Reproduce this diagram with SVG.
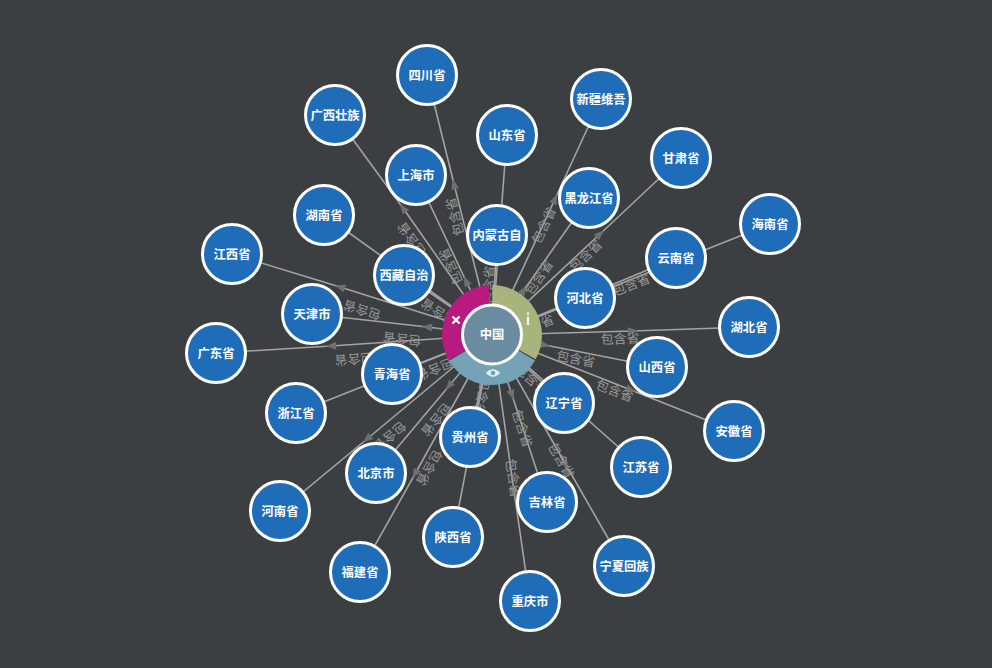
<svg xmlns="http://www.w3.org/2000/svg" width="992" height="668" viewBox="0 0 992 668">
<style>
.e{fill:none;stroke:#a3a3a3;stroke-width:1.6;marker-mid:url(#a)}
.l{font:13px "Noto Sans CJK SC","Liberation Sans",sans-serif;fill:#979797;text-anchor:middle;dominant-baseline:central}
.n circle{fill:#1f6cb8;stroke:#fff;stroke-width:3;r:29.5px}
.n text{font:bold 12.3px "Noto Sans CJK SC","Liberation Sans",sans-serif;fill:#fff;text-anchor:middle;dominant-baseline:central}
</style>
<defs><marker id="a" markerUnits="userSpaceOnUse" markerWidth="12" markerHeight="10" refX="6" refY="5" orient="auto"><path d="M1 1L11 5L1 9Z" fill="#6f6f6f"/></marker></defs>
<rect width="992" height="668" fill="#3c3f41"/>
<g id="connectors">
<polyline class="e" points="492,335 454,184 427,75"/>
<polyline class="e" points="492,335 507,135"/>
<polyline class="e" points="492,335 555,199 601,99"/>
<polyline class="e" points="492,335 600,234 681,158"/>
<polyline class="e" points="492,335 770,224"/>
<polyline class="e" points="492,335 676,258"/>
<polyline class="e" points="492,335 524,290 589,198"/>
<polyline class="e" points="492,335 497,235"/>
<polyline class="e" points="492,335 585,298"/>
<polyline class="e" points="492,335 633,331 749,327"/>
<polyline class="e" points="492,335 545,345 657,367"/>
<polyline class="e" points="492,335 631,390 734,431"/>
<polyline class="e" points="492,335 641,467"/>
<polyline class="e" points="492,335 564,403"/>
<polyline class="e" points="492,335 566,465 624,566"/>
<polyline class="e" points="492,335 512,395 547,502"/>
<polyline class="e" points="492,335 514,491 530,601"/>
<polyline class="e" points="492,335 470,437"/>
<polyline class="e" points="492,335 453,537"/>
<polyline class="e" points="492,335 415,474 360,572"/>
<polyline class="e" points="492,335 449,386 376,473"/>
<polyline class="e" points="492,335 367,439 280,511"/>
<polyline class="e" points="492,335 392,374"/>
<polyline class="e" points="492,335 296,413"/>
<polyline class="e" points="492,335 331,346 216,353"/>
<polyline class="e" points="492,335 340,287 232,254"/>
<polyline class="e" points="492,335 427,327 312,314"/>
<polyline class="e" points="492,335 404,275"/>
<polyline class="e" points="492,335 324,215"/>
<polyline class="e" points="492,335 466,281 416,175"/>
<polyline class="e" points="492,335 403,208 335,115"/>
<g>
<text class="l" transform="translate(454,217) rotate(-104)">包含省</text>
<text class="l" transform="translate(450,267) rotate(-115.4)">包含省</text>
<text class="l" transform="translate(411,240) rotate(-125.5)">包含省</text>
<text class="l" transform="translate(362,311) rotate(-162.7)">包含省</text>
<text class="l" transform="translate(402,340) rotate(-173.3)">包含省</text>
<text class="l" transform="translate(438,313) rotate(-145.7)">包含省</text>
<text class="l" transform="translate(543,225) rotate(-65.2)">包含省</text>
<text class="l" transform="translate(538,277) rotate(-54.7)">包含省</text>
<text class="l" transform="translate(585,255) rotate(-43.1)">包含省</text>
<text class="l" transform="translate(631,284) rotate(-21.8)">包含省</text>
<text class="l" transform="translate(535,325) rotate(-21.7)">包含省</text>
<text class="l" transform="translate(620,338) rotate(-1.8)">包含省</text>
<text class="l" transform="translate(576,358) rotate(11)">包含省</text>
<text class="l" transform="translate(615,390) rotate(21.6)">包含省</text>
<text class="l" transform="translate(532,379) rotate(43.4)">包含省</text>
<text class="l" transform="translate(523,428) rotate(71.8)">包含省</text>
<text class="l" transform="translate(562,460) rotate(60.3)">包含省</text>
<text class="l" transform="translate(514,478) rotate(81.9)">包含省</text>
<text class="l" transform="translate(435,370) rotate(158.7)">包含省</text>
<text class="l" transform="translate(354,360) rotate(176.3)">包含省</text>
<text class="l" transform="translate(437,420) rotate(130)">包含省</text>
<text class="l" transform="translate(390,437) rotate(140.3)">包含省</text>
<text class="l" transform="translate(430,468) rotate(119.1)">包含省</text>
<text class="l" transform="translate(483,397) rotate(102.2)">包含省</text>
<text class="l" transform="translate(488,285) rotate(-87.1)">包含省</text>
</g>
</g>
<g id="menu">
<path d="M492.4 285A50 50 0 0 1 535.7 359.2L518.2 349.5A30 30 0 0 0 492.3 305Z" fill="#a9b47c"/>
<path d="M535.1 360.4A50 50 0 0 1 449.1 360.8L466.3 350.5A30 30 0 0 0 517.9 350.2Z" fill="#74a3b8"/>
<path d="M448.7 360A50 50 0 0 1 488.5 285.1L489.9 305.1A30 30 0 0 0 466 350Z" fill="#b81a80"/>
<path d="M452.5 316.5L459.5 323.5M459.5 316.5L452.5 323.5" stroke="#fff" stroke-width="2.4" fill="none"/>
<path d="M528 312.5V314.5M528 316.5V325" stroke="#f1f3dc" stroke-width="2.4" fill="none"/>
<path d="M486 373Q493 365.5 500 373Q493 380.5 486 373Z" fill="#e4eef2"/>
<circle cx="493" cy="373" r="2.3" fill="#74a3b8"/>
</g>
<g id="n-center" class="n"><circle cx="492" cy="334.5" style="fill:#6a8ba0"/><text x="492" y="334">中国</text></g>
<g id="n1" class="n"><circle cx="427" cy="75"/><text x="427" y="74.5">四川省</text></g>
<g id="n2" class="n"><circle cx="507" cy="135"/><text x="507" y="134.5">山东省</text></g>
<g id="n3" class="n"><circle cx="601" cy="99"/><text x="601" y="98.5">新疆维吾</text></g>
<g id="n4" class="n"><circle cx="681" cy="158"/><text x="681" y="157.5">甘肃省</text></g>
<g id="n5" class="n"><circle cx="770" cy="224"/><text x="770" y="223.5">海南省</text></g>
<g id="n6" class="n"><circle cx="676" cy="258"/><text x="676" y="257.5">云南省</text></g>
<g id="n7" class="n"><circle cx="589" cy="198"/><text x="589" y="197.5">黑龙江省</text></g>
<g id="n8" class="n"><circle cx="497" cy="235"/><text x="497" y="234.5">内蒙古自</text></g>
<g id="n9" class="n"><circle cx="585" cy="298"/><text x="585" y="297.5">河北省</text></g>
<g id="n10" class="n"><circle cx="749" cy="327"/><text x="749" y="326.5">湖北省</text></g>
<g id="n11" class="n"><circle cx="657" cy="367"/><text x="657" y="366.5">山西省</text></g>
<g id="n12" class="n"><circle cx="734" cy="431"/><text x="734" y="430.5">安徽省</text></g>
<g id="n13" class="n"><circle cx="641" cy="467"/><text x="641" y="466.5">江苏省</text></g>
<g id="n14" class="n"><circle cx="564" cy="403"/><text x="564" y="402.5">辽宁省</text></g>
<g id="n15" class="n"><circle cx="624" cy="566"/><text x="624" y="565.5">宁夏回族</text></g>
<g id="n16" class="n"><circle cx="547" cy="502"/><text x="547" y="501.5">吉林省</text></g>
<g id="n17" class="n"><circle cx="530" cy="601"/><text x="530" y="600.5">重庆市</text></g>
<g id="n18" class="n"><circle cx="470" cy="437"/><text x="470" y="436.5">贵州省</text></g>
<g id="n19" class="n"><circle cx="453" cy="537"/><text x="453" y="536.5">陕西省</text></g>
<g id="n20" class="n"><circle cx="360" cy="572"/><text x="360" y="571.5">福建省</text></g>
<g id="n21" class="n"><circle cx="376" cy="473"/><text x="376" y="472.5">北京市</text></g>
<g id="n22" class="n"><circle cx="280" cy="511"/><text x="280" y="510.5">河南省</text></g>
<g id="n23" class="n"><circle cx="392" cy="374"/><text x="392" y="373.5">青海省</text></g>
<g id="n24" class="n"><circle cx="296" cy="413"/><text x="296" y="412.5">浙江省</text></g>
<g id="n25" class="n"><circle cx="216" cy="353"/><text x="216" y="352.5">广东省</text></g>
<g id="n26" class="n"><circle cx="312" cy="314"/><text x="312" y="313.5">天津市</text></g>
<g id="n27" class="n"><circle cx="232" cy="254"/><text x="232" y="253.5">江西省</text></g>
<g id="n28" class="n"><circle cx="404" cy="275"/><text x="404" y="274.5">西藏自治</text></g>
<g id="n29" class="n"><circle cx="324" cy="215"/><text x="324" y="214.5">湖南省</text></g>
<g id="n30" class="n"><circle cx="416" cy="175"/><text x="416" y="174.5">上海市</text></g>
<g id="n31" class="n"><circle cx="335" cy="115"/><text x="335" y="114.5">广西壮族</text></g>
</svg>
